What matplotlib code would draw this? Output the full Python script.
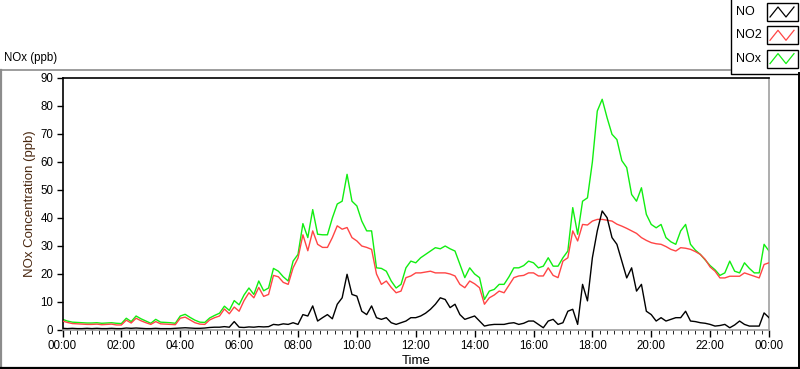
import numpy as np
import matplotlib
matplotlib.use("Agg")
import matplotlib.pyplot as plt
from matplotlib.patches import Rectangle

plt.rcParams['font.family'] = ['Liberation Sans', 'DejaVu Sans']

# samples every 10 minutes, 00:00 .. 24:00
hours = np.arange(0, 1441, 10) / 60.0

nox = [3.8, 3.2, 2.8, 2.7, 2.6, 2.5,
       2.5, 2.6, 2.4, 2.5, 2.6, 2.4,
       2.3, 4.2, 3.0, 5.0, 4.0, 3.2,
       2.4, 3.8, 2.8, 2.7, 2.6, 2.4,
       5.0, 5.6, 4.5, 3.5, 2.8, 2.7,
       4.3, 5.2, 6.0, 8.5, 7.0, 10.5,
       9.0, 12.5, 15.0, 12.7, 17.5, 14.0,
       15.0, 22.0, 21.0, 19.0, 17.5, 24.6,
       27.0, 38.0, 33.0, 43.0, 34.2, 34.0,
       34.0, 40.0, 45.0, 46.0, 55.6, 46.0,
       44.3, 38.9, 35.4, 35.4, 22.2, 22.0,
       21.0, 17.5, 15.0, 16.3, 22.2, 24.6,
       24.0, 25.8, 27.0, 28.2, 29.4, 29.0,
       30.0, 29.0, 28.2, 23.4, 18.7, 22.2,
       20.0, 18.7, 10.9, 13.9, 14.5, 16.3,
       16.3, 19.0, 22.2, 22.2, 23.0, 24.6,
       24.0, 22.2, 22.8, 25.8, 22.8, 22.8,
       25.8, 28.2, 43.7, 34.2, 46.0, 47.2,
       60.0, 78.2, 82.4, 75.8, 69.9, 68.0,
       60.5, 58.0, 48.4, 46.0, 50.8, 41.3,
       37.7, 36.5, 37.7, 33.0, 31.5, 30.6,
       35.4, 37.7, 30.6, 28.5, 27.0, 25.0,
       23.0, 21.5, 19.5, 20.4, 24.6, 21.0,
       20.4, 24.0, 22.0, 20.4, 20.4, 30.6,
       28.2]

no2 = [3.2, 2.7, 2.3, 2.2, 2.1, 2.0,
       2.0, 2.1, 1.9, 2.0, 2.1, 1.8,
       1.8, 3.5, 2.5, 4.2, 3.3, 2.6,
       2.0, 3.0, 2.2, 2.1, 2.0, 1.9,
       4.2, 4.6, 3.6, 2.6, 2.1, 2.0,
       3.6, 4.4, 5.0, 7.5, 5.8, 8.2,
       6.7, 10.5, 13.3, 11.5, 15.2, 12.0,
       12.7, 19.5, 19.0, 17.0, 16.3, 22.2,
       25.7, 34.0, 28.3, 35.4, 30.6, 29.5,
       29.5, 33.0, 37.2, 36.0, 36.6, 33.0,
       31.8, 30.0, 29.5, 28.8, 20.0, 16.3,
       17.5, 15.2, 13.3, 13.9, 18.7, 19.3,
       20.4, 20.4, 20.7, 21.0, 20.4, 20.4,
       20.4, 20.0, 19.3, 16.3, 15.1, 17.5,
       16.5, 15.1, 9.2, 11.5, 12.5, 13.9,
       13.3, 16.0, 18.7, 19.3, 19.5, 20.4,
       20.4, 19.3, 19.3, 22.2, 19.5, 18.7,
       24.6, 25.8, 35.4, 31.8, 37.7, 37.5,
       38.9, 39.5, 39.5, 39.2, 38.9, 37.8,
       37.1, 36.3, 35.4, 34.5, 33.0, 32.0,
       31.2, 30.8, 30.6, 29.8, 28.8, 28.2,
       29.4, 29.2, 28.8, 28.0, 27.0, 25.2,
       22.5, 21.0, 18.6, 18.6, 19.2, 19.2,
       19.2, 20.4, 19.8, 19.2, 18.6, 23.4,
       24.0]

no = [0.6, 0.5, 0.6, 0.5, 0.5, 0.6,
      0.5, 0.6, 0.5, 0.5, 0.6, 0.5,
      0.5, 0.7, 0.6, 0.7, 0.6, 0.5,
      0.5, 0.6, 0.5, 0.5, 0.5, 0.6,
      0.7, 0.8, 0.7, 0.6, 0.6, 0.7,
      0.9, 1.0, 1.0, 1.2, 1.0, 3.0,
      1.0, 0.9, 1.1, 1.0, 1.2, 1.1,
      1.2, 2.0, 1.8, 2.2, 2.0, 2.6,
      2.0, 5.5, 5.0, 8.6, 3.2, 4.4,
      5.5, 4.0, 9.2, 11.5, 19.9, 12.7,
      12.1, 6.7, 5.5, 8.6, 4.4, 3.8,
      4.4, 2.6, 2.0, 2.6, 3.2, 4.4,
      4.4, 5.0, 6.0, 7.4, 9.2, 11.5,
      10.9, 8.0, 9.2, 5.5, 3.8, 4.4,
      5.0, 3.2, 1.4, 1.8, 2.0, 2.0,
      2.0, 2.4, 2.6, 2.0, 2.4, 3.2,
      3.2, 2.0, 0.8, 3.2, 3.8, 2.0,
      2.6, 6.7, 7.4, 2.0, 16.3, 10.4,
      25.8, 35.4, 42.5, 40.1, 33.0, 30.6,
      24.6, 18.6, 22.2, 13.9, 16.3, 6.7,
      5.5, 3.2, 4.4, 3.2, 3.8, 4.4,
      4.4, 6.7, 3.2, 3.0, 2.6, 2.4,
      2.0, 1.4, 1.6, 2.0, 0.8, 1.8,
      3.2, 2.0, 1.4, 1.4, 1.4, 6.1,
      4.4]

series_names = ['NO', 'NO2', 'NOx']
series_colors = ['#000000', '#ff4545', '#11ee11']

W, H = 800, 369
fig = plt.figure(figsize=(W / 100, H / 100), dpi=100)

# overlay in pixel coords for the panel frame and the legend box
deco = fig.add_axes([0, 0, 1, 1], zorder=0)
deco.set_xlim(0, W)
deco.set_ylim(H, 0)
deco.axis('off')
deco.plot([0.5, 730], [69.5, 69.5], color='#8c8c8c', lw=1.2)
deco.plot([0.8, 0.8], [69.5, H], color='#8c8c8c', lw=1.6)
deco.plot([0, W], [H - 1.2, H - 1.2], color='black', lw=1.6)
deco.plot([W - 0.8, W - 0.8], [73, H], color='black', lw=1.4)
deco.plot([730.5, 730.5, W], [0, 73.5, 73.5], color='black', lw=1.0)
deco.text(4, 58, 'NOx (ppb)', fontsize=8.3, va='center', ha='left')

# legend entries
for i, (name, col) in enumerate(zip(series_names, series_colors)):
    yc = 12 + i * 23.3
    deco.text(736, yc, name, fontsize=9, va='center', ha='left')
    deco.add_patch(Rectangle((767, yc - 9), 31, 18, fill=False,
                             edgecolor='black', lw=1.0))
    deco.plot([770, 778, 786, 794], [yc + 5, yc - 5, yc + 5, yc - 5],
              color=col, lw=0.9)

ax = fig.add_axes([62.5 / W, 1 - 330 / H, (769 - 62.5) / W, (330 - 78) / H], zorder=1)
ax.plot(hours, nox, color=series_colors[2], lw=1.0, zorder=2)
ax.plot(hours, no2, color=series_colors[1], lw=1.0, zorder=3)
ax.plot(hours, no, color=series_colors[0], lw=1.0, zorder=4)

ax.set_xlim(0, 24)
ax.set_ylim(0, 90)
ax.set_yticks(np.arange(0, 91, 10))
ax.set_xticks(np.arange(0, 25, 2))
ax.set_xticks(np.arange(0, 24.01, 0.25), minor=True)
ax.set_xticklabels(['%02d:00' % (h % 24) for h in range(0, 25, 2)])

ax.tick_params(axis='both', labelsize=8.3, direction='out', width=1.0, pad=2)
ax.tick_params(axis='y', length=4.5)
ax.tick_params(axis='x', which='major', length=5)
ax.tick_params(axis='x', which='minor', length=3)

ax.spines['left'].set_color('black')
ax.spines['top'].set_color('black')
ax.spines['right'].set_color('#a0a0a0')
ax.spines['bottom'].set_color('#a0a0a0')
for s in ax.spines.values():
    s.set_linewidth(1.2)

ax.set_ylabel('NOx Concentration (ppb)', fontsize=9.5, color='#4a2810', labelpad=3)
ax.set_xlabel('Time', fontsize=9.5, labelpad=2)

fig.savefig('out.png', dpi=100)
